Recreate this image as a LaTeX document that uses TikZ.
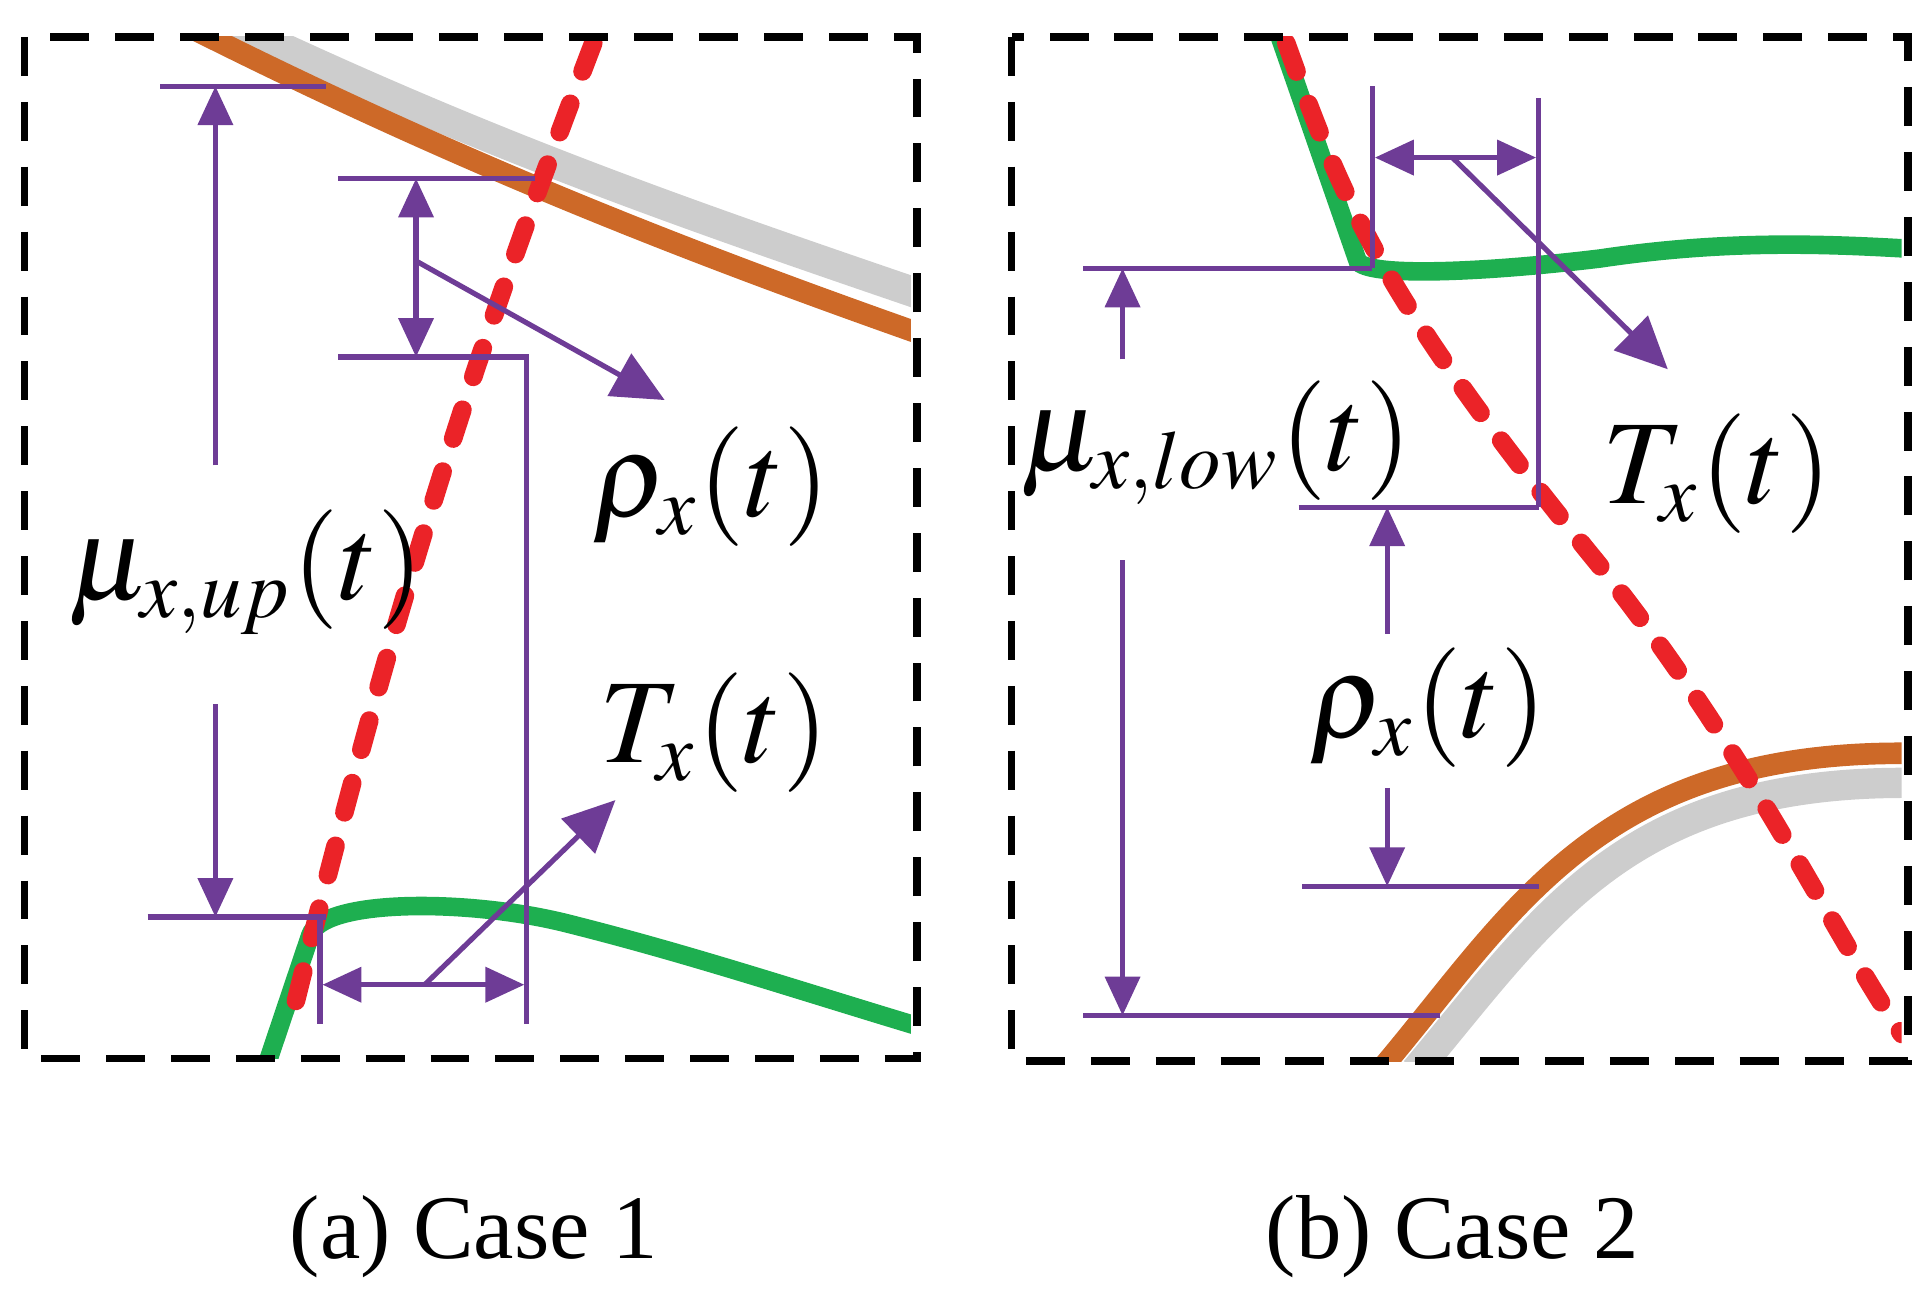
\documentclass[tikz,border=0pt]{standalone}
\usepackage{mathptmx}
\usepackage{fontspec}
\setmainfont{Liberation Serif}
\usetikzlibrary{arrows.meta, positioning, calc}
\definecolor{morado}{RGB}{110,60,150}
\definecolor{naranja}{RGB}{205,105,40}
\definecolor{gris}{RGB}{205,205,205}
\definecolor{verde}{RGB}{30,175,80}
\definecolor{rojo}{RGB}{235,35,40}
\begin{document}
\begin{tikzpicture}[
		x=0.1mm, y=-0.1mm,
		% --- Estilos ---
		marco/.style={draw, dashed, line width=1.7pt, dash pattern=on 9pt off 6pt},
		cota/.style={morado, line width=1.2pt},
		flecha/.style={cota, -{Triangle[length=9pt,width=8pt]}},
		dobleflecha/.style={cota, {Triangle[length=9pt,width=8pt]}-{Triangle[length=9pt,width=8pt]}},
		puntero/.style={cota, -{Triangle[length=12pt,width=11pt]}},
		trazo_rojo/.style={rojo, line width=4.3pt, line cap=round, dash pattern=on 7pt off 8pt},
		etiqueta/.style={font=\LARGE, scale=1.6},
		leyenda/.style={font=\fontsize{21}{26}\selectfont}
	]
	\useasboundingbox (0,0) rectangle (1568,1057);
	
	% 1. Caso 1
	\begin{scope}
		\clip (20,30) rectangle (740,860);
		\draw[gris, line width=7pt] (185,18) .. controls (400,120) and (560,175) .. (750,240);
		\draw[naranja, line width=5pt] (160,25) .. controls (380,135) and (560,205) .. (750,272);
		\draw[verde, line width=4.3pt] (215,870) -- (252,760) .. controls (262,730) and (380,730) .. (460,750) .. controls (560,775) and (650,805) .. (750,835);
		\draw[trazo_rojo] (482,35) .. controls (400,250) and (330,450) .. (235,835);
	\end{scope}
	\draw[marco] (20,30) rectangle (745,860);
	
	\coordinate (mu_top) at (175,70);
	\coordinate (mu_bot) at (175,745);
	\draw[cota] (130,70) -- (265,70);
	\draw[cota] (120,745) -- (265,745);
	\draw[flecha] (175,378) -- (mu_top);
	\draw[flecha] (175,572) -- (mu_bot);
	\node[etiqueta] (mu_up) at (200,465) {$\mu_{x,up}(t)$};
	
	\draw[cota] (275,145) -- (435,145);
	\draw[cota] (275,290) -- (430,290);
	\coordinate (rho_a1) at (338,145);
	\coordinate (rho_a2) at (338,290);
	\draw[dobleflecha] (rho_a1) -- (rho_a2);
	\node[etiqueta] (rho_a) at (578,395) {$\rho_x(t)$};
	\coordinate (rho_pt) at (540,325);
	\draw[puntero] (338,212) -- (rho_pt);
	
	\draw[cota] (260,745) -- (260,832);
	\draw[cota] (428,290) -- (428,832);
	\coordinate (T_a1) at (262,800);
	\coordinate (T_a2) at (426,800);
	\draw[dobleflecha] (T_a1) -- (T_a2);
	\node[etiqueta] (T_a) at (580,595) {$T_x(t)$};
	\coordinate (T_pt) at (500,650);
	\draw[puntero] (345,800) -- (T_pt);
	
	% 2. Caso 2
	\begin{scope}
		\clip (822,30) rectangle (1545,862);
		\draw[verde, line width=4.3pt] (1038,25) -- (1103,212) .. controls (1110,225) and (1200,222) .. (1300,210) .. controls (1400,195) and (1480,198) .. (1550,202);
		\draw[gris, line width=7pt] (1150,870) .. controls (1255,745) and (1320,635) .. (1550,636);
		\draw[naranja, line width=5pt] (1125,865) .. controls (1230,740) and (1300,610) .. (1550,612);
		\draw[trazo_rojo] (1045,35) .. controls (1090,160) and (1120,240) .. (1300,460) .. controls (1420,610) and (1490,760) .. (1545,840);
	\end{scope}
	\draw[marco] (822,30) rectangle (1550,862);
	
	\draw[cota] (880,218) -- (1115,218);
	\draw[cota] (880,825) -- (1170,825);
	\coordinate (mub_top) at (912,218);
	\coordinate (mub_bot) at (912,825);
	\draw[flecha] (912,292) -- (mub_top);
	\draw[flecha] (912,455) -- (mub_bot);
	\node[etiqueta] (mu_low) at (988,360) {$\mu_{x,low}(t)$};
	
	\draw[cota] (1115,70) -- (1115,218);
	\draw[cota] (1250,80) -- (1250,412);
	\coordinate (T_b1) at (1117,128);
	\coordinate (T_b2) at (1248,128);
	\draw[dobleflecha] (T_b1) -- (T_b2);
	\coordinate (T_ptb) at (1355,300);
	\draw[puntero] (1180,128) -- (T_ptb);
	\node[etiqueta] (T_b) at (1395,385) {$T_x(t)$};
	
	\draw[cota] (1055,412) -- (1250,412);
	\draw[cota] (1058,720) -- (1250,720);
	\coordinate (rho_b1) at (1127,412);
	\coordinate (rho_b2) at (1127,720);
	\draw[flecha] (1127,515) -- (rho_b1);
	\draw[flecha] (1127,640) -- (rho_b2);
	\node[etiqueta] (rho_b) at (1160,575) {$\rho_x(t)$};
	
	% 3. Leyendas
	\node[leyenda] (cap_a) at (385,1005) {(a) Case 1};
	\node[leyenda] (cap_b) at (1180,1005) {(b) Case 2};
\end{tikzpicture}
\end{document}
